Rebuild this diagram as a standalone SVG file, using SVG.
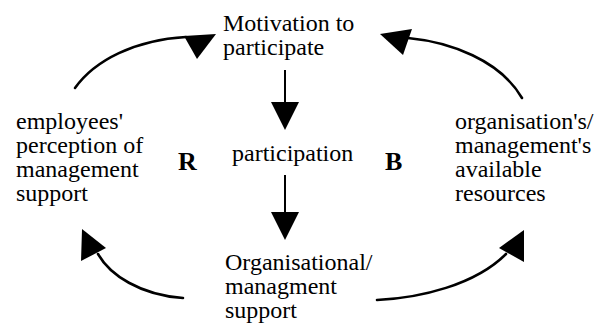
<svg xmlns="http://www.w3.org/2000/svg" width="604" height="331" viewBox="0 0 604 331">
<style>
text{font-family:"Liberation Serif","Times New Roman",serif;font-size:24px;fill:#000}
.big{font-weight:bold;font-size:26px}
.c{fill:none;stroke:#000;stroke-width:2.6;stroke-linecap:round}
.v{fill:none;stroke:#000;stroke-width:2}
.h{fill:#000;stroke:none}
</style>
<rect width="604" height="331" fill="#fff"/>
<g id="connectors">
<path class="v" d="M285,70 V103"/>
<polygon class="h" points="271,102 299,102 285,130"/>
<path class="v" d="M285,175 V213"/>
<polygon class="h" points="271,212 299,212 285,240"/>
<path class="c" d="M75,88 C95,60 135,40 186,37"/>
<polygon class="h" points="184,36 216,34 197,59"/>
<path class="c" d="M408,38 C450,42 500,60 522,98"/>
<polygon class="h" points="380,34 412,29 403,55"/>
<path class="c" d="M98,254 C110,275 140,295 183,298"/>
<polygon class="h" points="82,229 106,248 81,261"/>
<path class="c" d="M377,300 C420,298 475,285 506,254"/>
<polygon class="h" points="499,248 524,230 524,262"/>
</g>
<g id="motivation"><text x="223" y="31">Motivation to</text><text x="223" y="55">participate</text></g>
<g id="participation"><text x="232" y="161">participation</text></g>
<g id="organisational"><text x="225" y="270">Organisational/</text><text x="225" y="294">managment</text><text x="225" y="318">support</text></g>
<g id="employees"><text x="16" y="129">employees'</text><text x="16" y="153">perception of</text><text x="16" y="177">management</text><text x="16" y="201">support</text></g>
<g id="resources"><text x="455" y="129">organisation's/</text><text x="455" y="153">management's</text><text x="455" y="177">available</text><text x="455" y="201">resources</text></g>
<g id="loopR"><text class="big" x="178" y="170">R</text></g>
<g id="loopB"><text class="big" x="385" y="170">B</text></g>
</svg>
